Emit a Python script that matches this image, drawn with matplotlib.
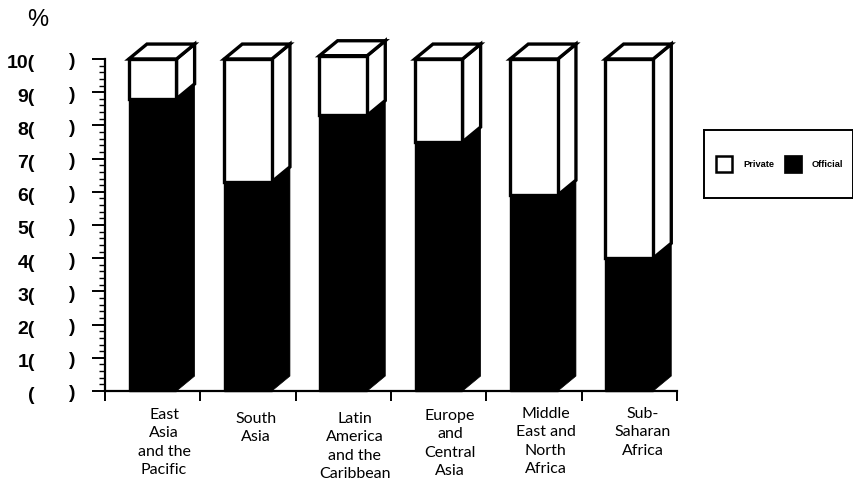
import matplotlib
matplotlib.use('Agg')
import matplotlib.pyplot as plt
from matplotlib.patches import Rectangle
from matplotlib.transforms import blended_transform_factory, ScaledTranslation

regions = ['East\nAsia\nand the\nPacific', 'South\nAsia', 'Latin\nAmerica\nand the\nCaribbean',
           'Europe\nand\nCentral\nAsia', 'Middle\nEast and\nNorth\nAfrica', 'Sub-\nSaharan\nAfrica']
official = [88, 63, 83, 75, 59, 40]
private = [12, 37, 18, 25, 41, 60]
y_ticks = [0, 10, 20, 30, 40, 50, 60, 70, 80, 90, 100]
y_labels = ['(', '1(', '2(', '3(', '4(', '5(', '6(', '7(', '8(', '9(', '10(']

W, H = 854, 481
fig = plt.figure(figsize=(W / 100, H / 100), dpi=100)
plt.rcParams['font.family'] = ['Liberation Sans', 'DejaVu Sans']

ax = fig.add_axes([105 / W, (H - 392) / H, 572 / W, 332 / H])
ax.set_xlim(0, 6)
ax.set_ylim(0, 100)

bar_w = 0.5
dx = 0.19   # depth of the 3d boxes
dy = 4.5
lw = 2.4

for i in range(len(regions)):
    left = i + 0.5 - bar_w / 2
    right = left + bar_w
    low = official[i]
    top = official[i] + private[i]

    # side and lid first, then the front face over them
    ax.fill([right, right + dx, right + dx, right], [low, low + dy, top + dy, top],
            fc='white', ec='black', lw=lw, clip_on=False, joinstyle='miter', zorder=2)
    ax.fill([left, left + dx, right + dx, right], [top, top + dy, top + dy, top],
            fc='white', ec='black', lw=lw, clip_on=False, joinstyle='miter', zorder=2)
    ax.fill([right, right + dx, right + dx, right], [0, dy, low + dy, low],
            fc='black', ec='black', lw=0.5, clip_on=False, zorder=3)
    ax.bar(i + 0.5, private[i], bar_w, bottom=low, fc='white', ec='black', lw=lw,
           clip_on=False, zorder=3)
    ax.bar(i + 0.5, official[i], bar_w, fc='black', ec='black', lw=1,
           clip_on=False, zorder=4)

for s in ['top', 'right']:
    ax.spines[s].set_visible(False)
for s in ['left', 'bottom']:
    ax.spines[s].set_linewidth(1.6)
    ax.spines[s].set_zorder(5)

ax.set_yticks(y_ticks, labels=y_labels)
ax.set_yticks(range(0, 101, 2), minor=True)
ax.tick_params(axis='y', which='major', length=9.5, width=1.4, pad=41, labelsize=14)
ax.tick_params(axis='y', which='minor', length=4, width=1)

# value labels sit a little under their ticks
down = ScaledTranslation(0, -2 / 100, fig.dpi_scale_trans)
for lab in ax.get_yticklabels():
    lab.set_fontweight('bold')
    lab.set_transform(lab.get_transform() + down)

# the right-hand side of each value label sits apart from the rest
tr = blended_transform_factory(fig.transFigure, ax.transData) + down
for v in y_ticks:
    ax.text(72 / W, v, ')', transform=tr, ha='center', va='center', fontsize=14,
            fontweight='bold', clip_on=False)

ax.set_xticks(range(7), labels=[])
ax.tick_params(axis='x', length=7, width=1.4)

label_tops = [408, 412, 412, 409, 407, 407]
label_shift = [0.62, 0.58, 0.62, 0.62, 0.62, 0.64]
for i, name in enumerate(regions):
    ax.text(i + label_shift[i], -(label_tops[i] - 392) / 3.32, name, ha='center', va='top',
            fontsize=11.5, family=['Lato', 'DejaVu Sans'],
            linespacing=1.39, clip_on=False)

fig.text(38 / W, 1 - 20 / H, '%', ha='center', va='center', fontsize=17)

# legend box
leg = fig.add_axes([704 / W, (H - 199) / H, 149 / W, 68 / H])
leg.set_xlim(704, 853)
leg.set_ylim(199, 131)
leg.set_xticks([])
leg.set_yticks([])
for s in leg.spines.values():
    s.set_linewidth(1.4)
leg.add_patch(Rectangle((716, 157), 16, 16, fc='white', ec='black', lw=1.8))
leg.add_patch(Rectangle((784, 156), 18, 18, fc='black', ec='black', lw=0.5))
leg.text(743, 165, 'Private', fontsize=6.7, fontweight='bold', va='center')
leg.text(812, 165, 'Official', fontsize=6.7, fontweight='bold', va='center')

fig.savefig('out.png', dpi=100)
